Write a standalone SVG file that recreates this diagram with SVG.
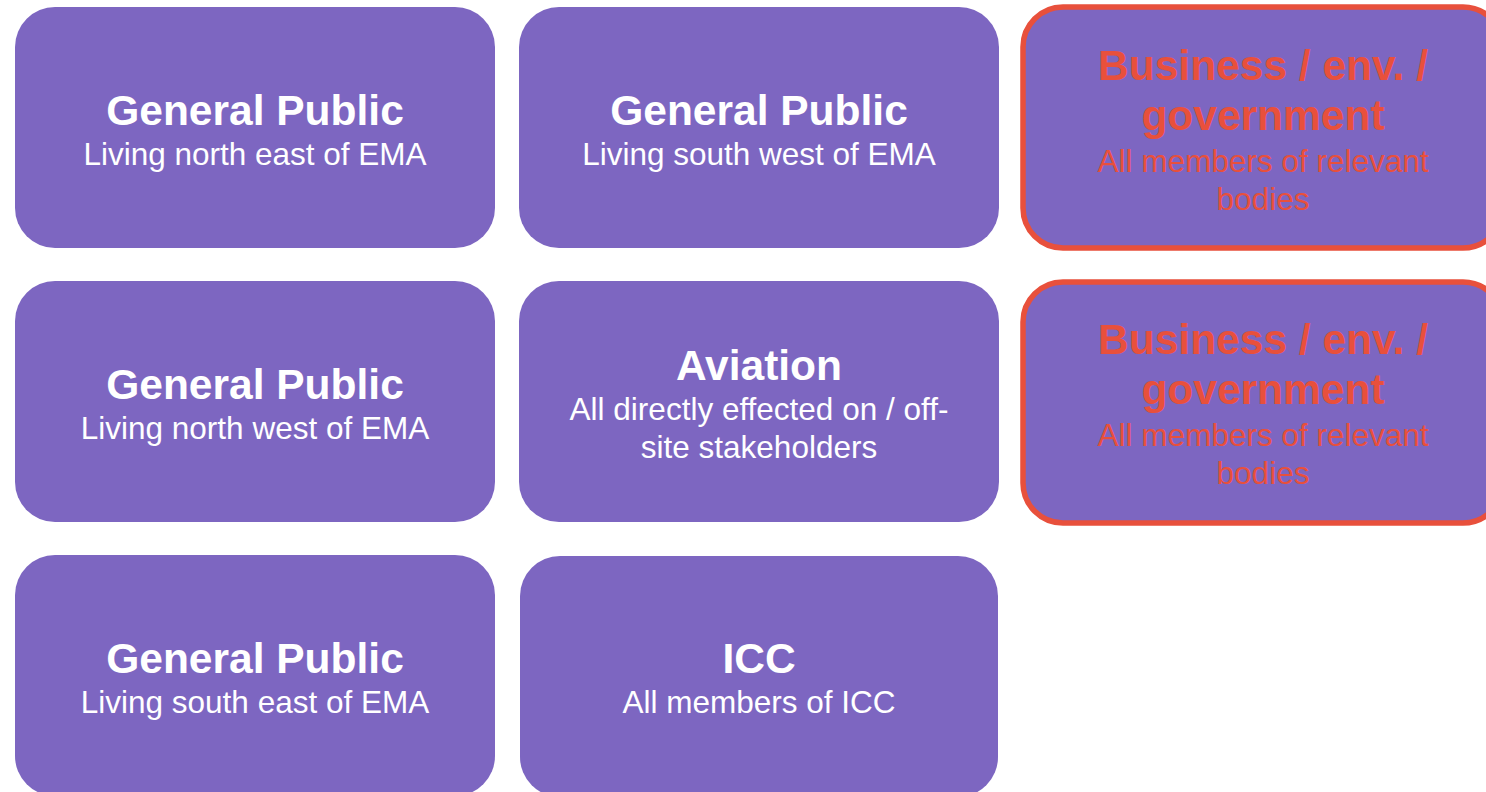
<svg xmlns="http://www.w3.org/2000/svg" width="1486" height="792" viewBox="0 0 1486 792">
  <style>
    .box { fill: #7D66C1; }
    .hl { stroke: #E8503C; stroke-width: 5.5; }
    text { font-family: "Liberation Sans", Arial, sans-serif; text-anchor: middle; fill: #FFFFFF; }
    .t { font-size: 42.5px; font-weight: bold; }
    .s { font-size: 31.5px; }
    .red text { fill: #E8503C; }
  </style>
  <rect width="1486" height="792" fill="#FFFFFF"/>

  <g id="gp-north-east">
    <rect class="box" x="15" y="7" width="480" height="241" rx="40"/>
    <text class="t" x="255" y="125">General Public</text>
    <text class="s" x="255" y="165">Living north east of EMA</text>
  </g>

  <g id="gp-south-west">
    <rect class="box" x="519" y="7" width="480" height="241" rx="40"/>
    <text class="t" x="759" y="125">General Public</text>
    <text class="s" x="759" y="165">Living south west of EMA</text>
  </g>

  <g id="business-1" class="red">
    <rect class="box hl" x="1023" y="7" width="480" height="241" rx="40"/>
    <text class="t" x="1263" y="80">Business / env. /</text>
    <text class="t" x="1263" y="130">government</text>
    <text class="s" x="1263" y="172">All members of relevant</text>
    <text class="s" x="1263" y="210">bodies</text>
  </g>

  <g id="gp-north-west">
    <rect class="box" x="15" y="281" width="480" height="241" rx="40"/>
    <text class="t" x="255" y="399">General Public</text>
    <text class="s" x="255" y="439">Living north west of EMA</text>
  </g>

  <g id="aviation">
    <rect class="box" x="519" y="281" width="480" height="241" rx="40"/>
    <text class="t" x="759" y="380">Aviation</text>
    <text class="s" x="759" y="420">All directly effected on / off-</text>
    <text class="s" x="759" y="458">site stakeholders</text>
  </g>

  <g id="business-2" class="red">
    <rect class="box hl" x="1023" y="282" width="480" height="241" rx="40"/>
    <text class="t" x="1263" y="354">Business / env. /</text>
    <text class="t" x="1263" y="404">government</text>
    <text class="s" x="1263" y="446">All members of relevant</text>
    <text class="s" x="1263" y="484">bodies</text>
  </g>

  <g id="gp-south-east">
    <rect class="box" x="15" y="555" width="480" height="241" rx="40"/>
    <text class="t" x="255" y="673">General Public</text>
    <text class="s" x="255" y="713">Living south east of EMA</text>
  </g>

  <g id="icc">
    <rect class="box" x="520" y="556" width="478" height="241" rx="40"/>
    <text class="t" x="759" y="673">ICC</text>
    <text class="s" x="759" y="713">All members of ICC</text>
  </g>

  <g id="connectors"/>
</svg>
